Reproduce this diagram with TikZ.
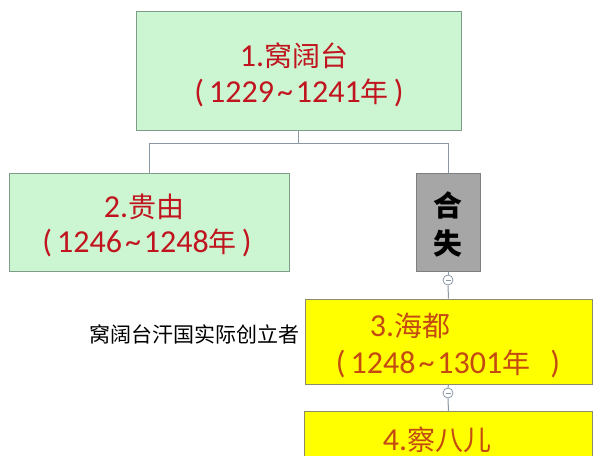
\documentclass[tikz,border=0pt]{standalone}
\usepackage{fontspec}
\setmainfont{Carlito}
\newfontfamily\cjk[Scale=0.875]{Noto Sans CJK SC}
\definecolor{gfill}{HTML}{CCF5D2}
\definecolor{gline}{HTML}{7F9C8A}
\definecolor{yfill}{HTML}{FFFF00}
\definecolor{yline}{HTML}{8C8C66}
\definecolor{hfill}{HTML}{A6A6A6}
\definecolor{hline}{HTML}{7F7F7F}
\definecolor{conn}{HTML}{8A98A6}
\definecolor{redt}{HTML}{C0141E}
\definecolor{orat}{HTML}{C44A12}
\newcommand{\mytil}{\hspace{3pt}\textasciitilde\hspace{3pt}}
\tikzset{
  box/.style={draw, line width=1pt, inner sep=0pt},
  gbox/.style={box, fill=gfill, draw=gline},
  ybox/.style={box, fill=yfill, draw=yline},
  hbox/.style={box, fill=hfill, draw=hline},
  conline/.style={draw=conn, line width=1pt},
  toggle/.style={circle, draw=conn, fill=white, line width=0.8pt, minimum size=10pt, inner sep=0pt},
  rtxt/.style={text=redt, font=\fontsize{32}{34}\selectfont, inner sep=0pt},
  otxt/.style={text=orat, font=\fontsize{32}{34}\selectfont, inner sep=0pt},
}
\begin{document}
\begin{tikzpicture}[x=1pt,y=-1pt]
\useasboundingbox (0,0) rectangle (607,466);
\fill[white] (0,0) rectangle (607,466);
% boxes
\node[gbox, minimum width=325pt, minimum height=119pt] (b1) at (298.5,70.5) {};
\node[gbox, minimum width=280pt, minimum height=98pt] (b2) at (149,222) {};
\node[hbox, minimum width=64pt, minimum height=98pt] (hs) at (448,222) {};
\node[ybox, minimum width=287pt, minimum height=85pt] (b3) at (448.5,341.5) {};
\node[fill=yfill, inner sep=0pt, minimum width=287pt, minimum height=44pt] (b4) at (448.5,434) {};
\draw[yline, line width=1pt] (b4.south west) -- (b4.north west) -- (b4.north east) -- (b4.south east);
% toggles
\node[toggle] (c1) at (448,280) {};
\node[toggle] (c2) at (448,393) {};
\draw[conn, line width=0.8pt] ([xshift=-2.5pt]c1.center) -- ([xshift=2.5pt]c1.center);
\draw[conn, line width=0.8pt] ([xshift=-2.5pt]c2.center) -- ([xshift=2.5pt]c2.center);
% connectors
\coordinate (j) at (298.5,143);
\draw[conline] (b1.south) -- (j) -| (b2.north);
\draw[conline] (j) -| (hs.north);
\draw[conline] (hs.south) -- (c1.north);
\draw[conline] (c1.south) -- (b3.north);
\draw[conline] (b3.south) -- (c2.north);
\draw[conline] (c2.south) -- (b4.north);
% texts
\node[rtxt] (t1a) at (294,56) {1.{\cjk 窝阔台}};
\node[rtxt] (t1b) at (299,93) {(\hspace{5pt}1229\mytil 1241{\cjk 年}\hspace{5pt})};
\node[rtxt] (t2a) at (144,207) {2.{\cjk 贵由}};
\node[rtxt] (t2b) at (147,243) {(\hspace{5pt}1246\mytil 1248{\cjk 年}\hspace{5pt})};
\node[inner sep=0pt, font=\cjk\bfseries\fontsize{33}{35}\selectfont] (h1) at (448,205) {合};
\node[inner sep=0pt, font=\cjk\bfseries\fontsize{33}{35}\selectfont] (h2) at (448,244) {失};
\node[otxt] (t3a) at (410,326) {3.{\cjk 海都}};
\node[otxt] (t3b) at (448,364) {(\hspace{5pt}1248\mytil 1301{\cjk 年}\hspace{20pt})};
\node[otxt] (t4a) at (437,440) {4.{\cjk 察八儿}};
\node[inner sep=0pt, font=\cjk\fontsize{24}{26}\selectfont] (lab) at (194,334) {窝阔台汗国实际创立者};
\end{tikzpicture}
\end{document}
